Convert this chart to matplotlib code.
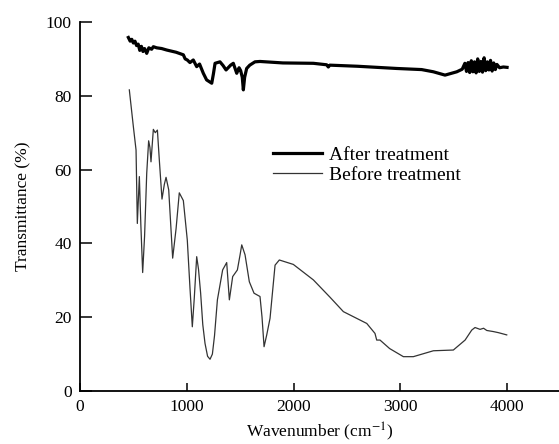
import matplotlib.pyplot as plt

plt.rcParams["font.family"] = ["Liberation Serif", "DejaVu Serif"]
plt.rcParams["mathtext.fontset"] = "stix"

# Before treatment spectrum (thin line)
before_x = [462, 500, 525, 537, 556, 570, 587, 605, 625, 643, 655, 665, 687, 705, 725,
            743, 768, 790, 806, 831, 850, 868, 900, 930, 968, 1005, 1030, 1052, 1070, 1093,
            1110, 1130, 1150, 1171, 1195, 1218, 1240, 1260, 1287, 1336, 1374, 1399, 1430, 1474,
            1500, 1515, 1546, 1586, 1630, 1686, 1705, 1724, 1749, 1780, 1827, 1867, 1998,
            2186, 2342, 2467, 2686, 2763, 2779, 2810, 2900, 3029, 3122, 3310, 3497, 3607,
            3669, 3700, 3747, 3780, 3810, 3872, 3920, 3997]
before_y = [81.6, 71.6, 65.3, 45.4, 58.1, 45.0, 32.1, 42.0, 59.0, 67.8, 66.0, 62.1, 70.9, 70.0, 70.7,
            62.6, 52.0, 56.0, 57.9, 54.5, 45.0, 36.0, 44.0, 53.7, 51.6, 40.9, 28.0, 17.4, 25.0, 36.4,
            33.0, 26.5, 18.0, 12.9, 9.4, 8.6, 10.0, 15.0, 24.7, 32.8, 34.8, 24.7, 31.0, 32.8,
            37.0, 39.6, 36.9, 29.6, 26.5, 25.6, 20.0, 12.0, 15.2, 19.7, 34.1, 35.5, 34.3,
            30.1, 25.4, 21.5, 18.3, 15.6, 13.8, 13.8, 11.5, 9.3, 9.3, 10.9, 11.1, 13.8,
            16.5, 17.2, 16.7, 17.0, 16.4, 16.1, 15.8, 15.2]

# After treatment spectrum (thick line)
after_x = [453, 470, 485, 500, 515, 530, 545, 560, 575, 590, 605, 625, 645, 671, 687, 718,
           765, 812, 900, 968, 985, 1005, 1030, 1061, 1093, 1120, 1155, 1186, 1234, 1250,
           1265, 1311, 1340, 1368, 1411, 1436, 1468, 1490, 1505, 1520, 1530, 1542, 1561,
           1590, 1639, 1686, 1900, 2186, 2310, 2326, 2340, 2600, 2967, 3200, 3310, 3419,
           3529, 3580, 3605, 3620, 3635, 3650, 3665, 3680, 3695, 3710, 3725, 3740, 3755,
           3770, 3785, 3800, 3815, 3830, 3845, 3860, 3875, 3890, 3905, 3930, 3965, 4000]
after_y = [95.8, 94.8, 95.3, 94.3, 94.8, 93.6, 94.0, 92.3, 93.4, 92.0, 92.8, 91.5, 93.0, 92.6, 93.3, 93.0,
           92.8, 92.4, 91.8, 91.1, 90.0, 89.7, 89.0, 89.7, 87.9, 88.6, 86.1, 84.3, 83.4, 86.0,
           88.8, 89.2, 88.2, 87.0, 88.3, 88.8, 86.1, 87.6, 86.8, 85.0, 81.6, 85.0, 87.4,
           88.3, 89.2, 89.3, 88.9, 88.8, 88.4, 87.8, 88.3, 88.0, 87.4, 87.1, 86.5, 85.6,
           86.5, 87.2, 88.8, 86.6, 89.0, 86.3, 89.5, 86.5, 89.2, 86.2, 90.0, 86.6, 89.3,
           86.4, 90.3, 86.8, 89.2, 87.0, 89.6, 86.7, 88.9, 87.1, 88.5, 87.6, 87.8, 87.7]

fig = plt.figure(figsize=(5.59, 4.44), dpi=100)
ax = fig.add_axes([0.1431, 0.1194, 0.857, 0.8311])

ax.plot(after_x, after_y, color="black", linewidth=2.3, label="After treatment")
ax.plot(before_x, before_y, color="#333333", linewidth=0.9, label="Before treatment")

ax.set_xlim(0, 4487)
ax.set_ylim(0, 100)
ax.set_xticks([0, 1000, 2000, 3000, 4000])
ax.set_yticks([0, 20, 40, 60, 80, 100])
ax.spines["top"].set_visible(False)
ax.spines["right"].set_visible(False)
for s in ["left", "bottom"]:
    ax.spines[s].set_linewidth(1.3)
ax.tick_params(axis="both", direction="in", labelsize=12.5, width=1.1)
ax.tick_params(axis="y", length=8.5, pad=6)
ax.tick_params(axis="x", length=5.8, pad=6)

ax.set_xlabel("Wavenumber (cm$^{-1}$)", fontsize=12.5, labelpad=4)
ax.set_ylabel("Transmittance (%)", fontsize=12.5, labelpad=10)

ax.legend(loc="upper left", bbox_to_anchor=(0.403, 0.664), frameon=False, fontsize=14,
          handlelength=2.5, handletextpad=0.36, labelspacing=0.15, borderpad=0,
          borderaxespad=0)

fig.savefig("out.png", dpi=100)
